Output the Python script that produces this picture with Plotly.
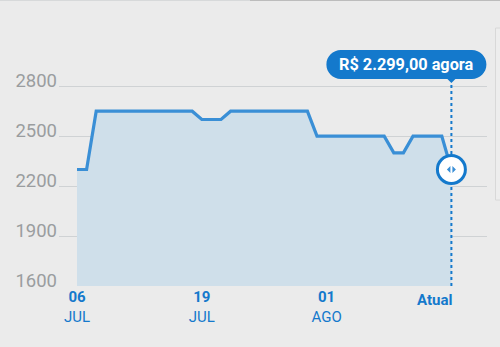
import plotly.graph_objects as go
import pandas as pd

# ---- data ----
dates = ["2018-07-06", "2018-07-07", "2018-07-08", "2018-07-18", "2018-07-19",
         "2018-07-21", "2018-07-22", "2018-07-30", "2018-07-31", "2018-08-07",
         "2018-08-08", "2018-08-09", "2018-08-10", "2018-08-13", "2018-08-14"]
prices = [2299, 2299, 2649, 2649, 2599, 2599, 2649, 2649, 2499, 2499,
          2399, 2399, 2499, 2499, 2299]
y_ticks = [1600, 1900, 2200, 2500, 2800]
x_tick_vals = ["2018-07-06", "2018-07-19", "2018-08-01"]
x_tick_days = ["06", "19", "01"]
x_tick_months = ["JUL", "JUL", "AGO"]
last_label = "Atual"
current_text = "R$ 2.299,00 agora"

BLUE = "#3a8fd6"
DARK_BLUE = "#1479cc"
FILL = "#cfdfea"
BG = "#ebebeb"

W, H = 500, 347
L, R, T, B = 59, 13, 40, 61
plot_w = W - L - R
px_per_day = 9.6
start = pd.Timestamp(dates[0]) - pd.Timedelta(days=18 / px_per_day)
end = start + pd.Timedelta(days=plot_w / px_per_day)
plot_h = H - T - B
units_per_px = 6
y_top = 1600 + plot_h * units_per_px

last_x = dates[-1]
last_y = prices[-1]
tip_y = 2800 + 3 * units_per_px  # bubble pointer tip, just above the 2800 grid line

fig = go.Figure()
fig.add_trace(go.Scatter(
    x=dates, y=prices, mode="lines",
    line=dict(color=BLUE, width=3.2),
    fill="tozeroy", fillcolor=FILL,
    hoverinfo="skip",
))
# dotted vertical guide
fig.add_trace(go.Scatter(
    x=[last_x, last_x], y=[1600, tip_y], mode="lines",
    line=dict(color=DARK_BLUE, width=2, dash="dot"),
    hoverinfo="skip", cliponaxis=False,
))
# current point marker
fig.add_trace(go.Scatter(
    x=[last_x], y=[last_y], mode="markers",
    marker=dict(size=28, color="white", line=dict(color=DARK_BLUE, width=3)),
    hoverinfo="skip",
))

shapes = []
# pill-shaped bubble
k = 8.01
r = 14.5
lft, rgt, bot, top = -125, 35, 7, 36
cy = (bot + top) / 2
lc = lft + r
rc = rgt - r
path = (f"M {lc},{bot} L -4,{bot} L 0,{bot-4} L 4,{bot} L {rc},{bot} "
        f"C {rc+k},{bot} {rgt},{cy-k} {rgt},{cy} "
        f"C {rgt},{cy+k} {rc+k},{top} {rc},{top} "
        f"L {lc},{top} "
        f"C {lc-k},{top} {lft},{cy+k} {lft},{cy} "
        f"C {lft},{cy-k} {lc-k},{bot} {lc},{bot} Z")
shapes.append(dict(type="path", xref="x", yref="y", xsizemode="pixel", ysizemode="pixel",
                   xanchor=last_x, yanchor=2800, path=path,
                   fillcolor=DARK_BLUE, line=dict(width=0), layer="above"))
# arrows inside the marker
arrows = "M -1,-3.5 L -4.5,0 L -1,3.5 Z M 1,-3.5 L 4.5,0 L 1,3.5 Z"
shapes.append(dict(type="path", xref="x", yref="y", xsizemode="pixel", ysizemode="pixel",
                   xanchor=last_x, yanchor=last_y, path=arrows,
                   fillcolor=BLUE, line=dict(width=0), layer="above"))
# top strip
shapes.append(dict(type="line", xref="paper", yref="paper",
                   x0=-L / plot_w, x1=(250 - L) / plot_w,
                   y0=(H - B + 0.8) / plot_h, y1=(H - B + 0.8) / plot_h,
                   line=dict(color="#9aa3a6", width=2)))
shapes.append(dict(type="line", xref="paper", yref="paper",
                   x0=(250 - L) / plot_w, x1=(W - L) / plot_w,
                   y0=(H - B + 0.8) / plot_h, y1=(H - B + 0.8) / plot_h,
                   line=dict(color="#333333", width=2)))
# right panel edge
shapes.append(dict(type="rect", xref="paper", yref="paper",
                   x0=(495.5 - L) / plot_w, x1=(520 - L) / plot_w,
                   y0=(H - B - 200) / plot_h, y1=(H - B - 28) / plot_h,
                   line=dict(color="#d8d8d8", width=1), fillcolor="#ededed", layer="below"))

annotations = [
    dict(x=last_x, y=2800, xref="x", yref="y", text=f"<b>{current_text}</b>",
         showarrow=False, xshift=-45, yshift=22,
         font=dict(color="white", size=16.3, family="Roboto")),
    dict(x=last_x, y=0, xref="x", yref="paper", text=f"<b>{last_label}</b>",
         showarrow=False, xanchor="right", yanchor="top", xshift=3, yshift=-3,
         font=dict(color=DARK_BLUE, size=15, family="Roboto")),
]

fig.update_layout(
    width=W, height=H,
    margin=dict(l=L, r=R, t=T, b=B, pad=0),
    paper_bgcolor=BG, plot_bgcolor=BG,
    showlegend=False,
    shapes=shapes,
    annotations=annotations,
    xaxis=dict(
        range=[start, end], showgrid=False, zeroline=False, showline=False,
        tickvals=x_tick_vals,
        ticktext=[f"<b>{d}</b><br>{m}" for d, m in zip(x_tick_days, x_tick_months)],
        tickfont=dict(color=DARK_BLUE, size=15, family="Roboto"),
        ticks="", fixedrange=True,
    ),
    yaxis=dict(
        range=[1600, y_top], tickvals=y_ticks, showgrid=True,
        gridcolor="#cfd2d4", gridwidth=1.2, zeroline=False, showline=False,
        tickfont=dict(color="#9a9d9f", size=18.5, family="Roboto"),
        ticklabelshift=-5, ticklabelstandoff=1, ticks="", fixedrange=True,
    ),
)

fig.write_html("out.html")
